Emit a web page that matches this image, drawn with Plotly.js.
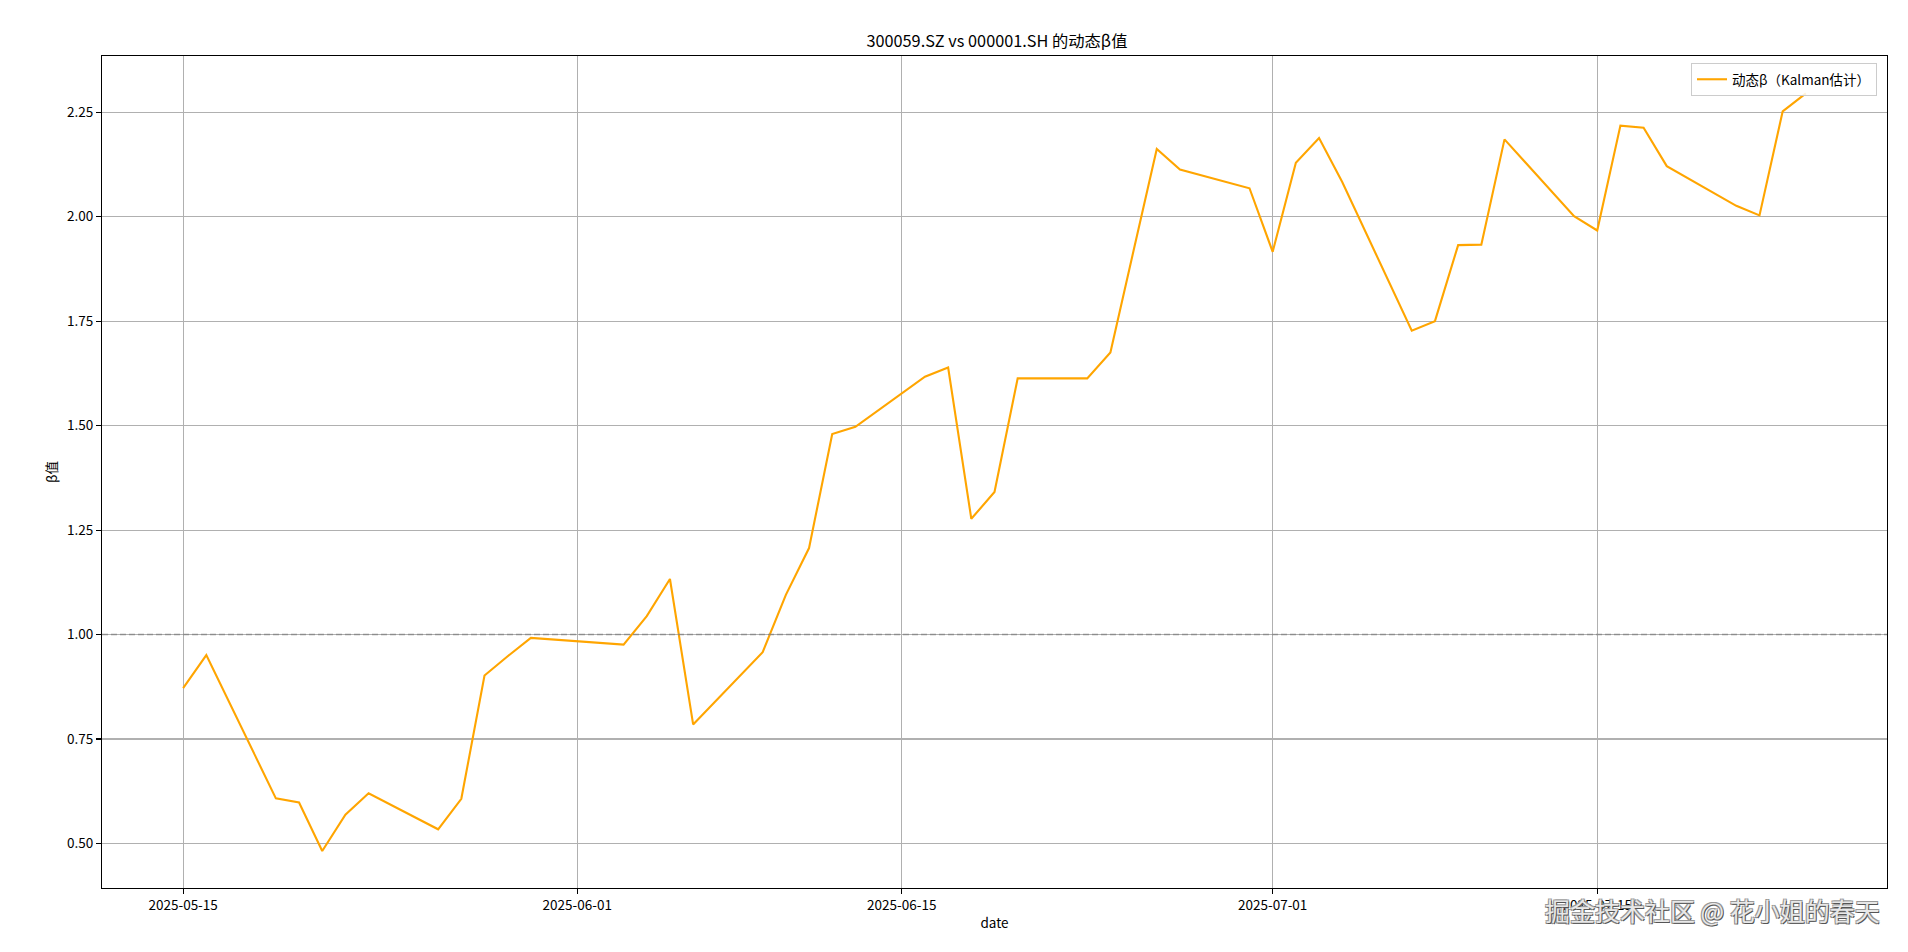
<!DOCTYPE html>
<html>
<head>
<meta charset="utf-8">
<script src="https://cdn.plot.ly/plotly-3.0.1.min.js"></script>
<style>
  html, body { margin: 0; padding: 0; background: #ffffff; }
  #chart { width: 1908px; height: 952px; }
</style>
</head>
<body>
<div id="chart"></div>
<script>
// ---- data ----
const dates = [
  "2025-05-15", "2025-05-16", "2025-05-19", "2025-05-20", "2025-05-21", "2025-05-22", "2025-05-23",
  "2025-05-26", "2025-05-27", "2025-05-28", "2025-05-29", "2025-05-30",
  "2025-06-03", "2025-06-04", "2025-06-05", "2025-06-06",
  "2025-06-09", "2025-06-10", "2025-06-11", "2025-06-12", "2025-06-13",
  "2025-06-16", "2025-06-17", "2025-06-18", "2025-06-19", "2025-06-20",
  "2025-06-23", "2025-06-24", "2025-06-25", "2025-06-26", "2025-06-27",
  "2025-06-30", "2025-07-01", "2025-07-02", "2025-07-03", "2025-07-04",
  "2025-07-07", "2025-07-08", "2025-07-09", "2025-07-10", "2025-07-11",
  "2025-07-14", "2025-07-15", "2025-07-16", "2025-07-17", "2025-07-18",
  "2025-07-21", "2025-07-22", "2025-07-23", "2025-07-24"
];
const betaValues = [
  0.872, 0.951, 0.608, 0.598, 0.482, 0.569, 0.620,
  0.534, 0.607, 0.902, 0.948, 0.992,
  0.976, 1.044, 1.133, 0.785,
  0.958, 1.095, 1.207, 1.480, 1.497,
  1.617, 1.639, 1.277, 1.341, 1.613,
  1.613, 1.675, 1.919, 2.162, 2.113,
  2.068, 1.916, 2.129, 2.188, 2.083,
  1.727, 1.750, 1.932, 1.933, 2.185,
  2.001, 1.967, 2.218, 2.213, 2.121,
  2.026, 2.003, 2.252, 2.295
];
const xTickVals = ["2025-05-15", "2025-06-01", "2025-06-15", "2025-07-01", "2025-07-15"];
const xTickText = ["2025-05-15", "2025-06-01", "2025-06-15", "2025-07-01", "2025-07-15"];
const yTickVals = [0.50, 0.75, 1.00, 1.25, 1.50, 1.75, 2.00, 2.25];
const referenceBeta = 1.0;
const seriesName = "动态β（Kalman估计）";
const chartTitle = "300059.SZ vs 000001.SH 的动态β值";
const watermark = "掘金技术社区 @ 花小姐的春天";

const FONT = '"Noto Sans CJK SC", "Noto Sans", "DejaVu Sans", sans-serif';

const traces = [{
  x: dates,
  y: betaValues,
  type: "scatter",
  mode: "lines",
  name: seriesName,
  line: { color: "#FFA500", width: 2.1 }
}];

const axisCommon = {
  showline: true,
  linecolor: "#000000",
  linewidth: 1.1,
  mirror: true,
  ticks: "outside",
  ticklen: 5,
  tickwidth: 1.1,
  tickcolor: "#000000",
  showgrid: true,
  gridcolor: "#b0b0b0",
  gridwidth: 1.1,
  zeroline: false,
  tickfont: { family: FONT, size: 13.5, color: "#000000" }
};

const layout = {
  width: 1908,
  height: 952,
  paper_bgcolor: "#ffffff",
  plot_bgcolor: "#ffffff",
  margin: { l: 102, r: 21, t: 56, b: 64 },
  font: { family: FONT, size: 13.5, color: "#000000" },
  title: {
    text: chartTitle,
    font: { family: FONT, size: 16.3, color: "#000000" },
    x: 0.5225, xanchor: "center",
    yref: "container", y: 1 - 41 / 952, yanchor: "middle"
  },
  xaxis: Object.assign({}, axisCommon, {
    type: "date",
    range: ["2025-05-11 12:00", "2025-07-27 12:00"],
    tickmode: "array",
    tickvals: xTickVals,
    ticktext: xTickText,
    title: { text: "date", font: { family: FONT, size: 13.5, color: "#000000" }, standoff: 5 }
  }),
  yaxis: Object.assign({}, axisCommon, {
    range: [0.3935, 2.3845],
    tickmode: "array",
    tickvals: yTickVals,
    tickformat: ".2f",
    title: { text: "β值", font: { family: FONT, size: 13.5, color: "#000000" }, standoff: 6 }
  }),
  showlegend: true,
  legend: {
    x: 0.9944, xanchor: "right",
    y: 0.9916, yanchor: "top",
    bgcolor: "rgba(255,255,255,0.85)",
    bordercolor: "#cccccc",
    borderwidth: 1,
    font: { family: FONT, size: 13.5, color: "#000000" },
    itemwidth: 30
  },
  shapes: [{
    type: "line",
    xref: "paper", x0: 0, x1: 1,
    yref: "y", y0: referenceBeta, y1: referenceBeta,
    line: { color: "rgba(128,128,128,0.75)", width: 1.6, dash: "6px,3px" },
    layer: "above"
  }],
  annotations: [{
    text: watermark,
    xref: "paper", x: 0.9972, xanchor: "right",
    yref: "paper", y: -0.0264, yanchor: "middle",
    showarrow: false,
    font: {
      family: FONT, size: 25, color: "#e8e8e8",
      shadow: "1px 1px 0px #555555, -1px -1px 0px #999999, 1px -1px 0px #999999, -1px 1px 0px #888888"
    }
  }]
};

Plotly.newPlot("chart", traces, layout, { displayModeBar: false, staticPlot: true });
</script>
</body>
</html>
